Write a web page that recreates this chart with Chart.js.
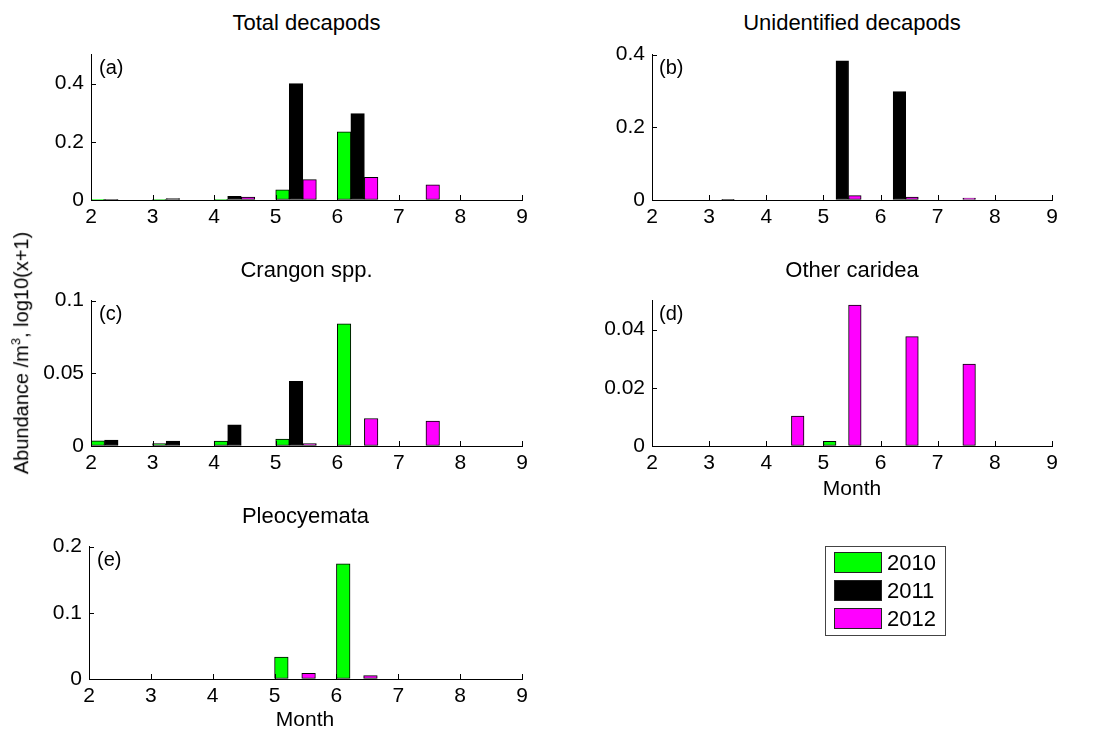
<!DOCTYPE html>
<html>
<head>
<meta charset="utf-8">
<script src="https://cdn.jsdelivr.net/npm/chart.js@4"></script>
<style>
  body { margin: 0; background: #fff; }
  #fig { position: relative; width: 1107px; height: 729px; overflow: hidden;
         font-family: 'Liberation Sans', Arial, sans-serif; color: #000; }
  .panel { position: absolute; }
  .txt { position: absolute; white-space: nowrap; line-height: 1; transform: translate(-50%, -50%); }
  .title { font-size: 22px; }
  .tag { font-size: 20px; transform: translate(0, -50%); }
  .xlab { font-size: 21px; }
  #ylab { font-size: 20px; transform: translate(-50%, -50%) rotate(-90deg); }
  #legend { position: absolute; left: 825px; top: 546px; width: 119px; height: 88px;
            border: 1px solid #444; background: #fff; }
  .leg-row { position: absolute; left: 8px; height: 21px; display: flex; align-items: center; }
  .leg-sw { width: 46px; height: 19px; border: 1px solid #222; margin-right: 5px; }
  .leg-tx { font-size: 22px; line-height: 1; }
</style>
</head>
<body>
<div id="fig">
  <div id="panels"></div>
  <div class="txt" id="ylab" style="left:20px;top:353px">Abundance /m<sup style="font-size:13px">3</sup>, log10(x+1)</div>
  <div class="txt xlab" style="left:852px;top:487px">Month</div>
  <div class="txt xlab" style="left:305px;top:718px">Month</div>
  <div id="legend"></div>
</div>
<script>
/* ── Data ── */
const MONTHS = [2, 3, 4, 5, 6, 7];
const YEARS = ['2010', '2011', '2012'];
const YEAR_SHIFT = [0.11, 0.33, 0.55];          // bar centre, in months after the month start
const YEAR_COLORS = ['#00ff00', '#000000', '#ff00ff'];
const X_TICKS = [2, 3, 4, 5, 6, 7, 8, 9];

// (a) Total decapods
const TOTAL_2010 = [0.001, 0.002, 0.002, 0.035, 0.234, 0];
const TOTAL_2011 = [0.002, 0.005, 0.013, 0.400, 0.297, 0];
const TOTAL_2012 = [0, 0, 0.010, 0.070, 0.078, 0.052];
const TOTAL_TICKS = [0, 0.2, 0.4];

// (b) Unidentified decapods
const UNID_2010 = [0, 0, 0, 0, 0, 0];
const UNID_2011 = [0, 0.002, 0, 0.383, 0.298, 0];
const UNID_2012 = [0, 0, 0, 0.012, 0.008, 0.005];
const UNID_TICKS = [0, 0.2, 0.4];

// (c) Crangon spp.
const CRANGON_2010 = [0.0035, 0.0017, 0.0033, 0.0048, 0.084, 0];
const CRANGON_2011 = [0.0041, 0.0033, 0.0146, 0.0445, 0, 0];
const CRANGON_2012 = [0, 0, 0, 0.0017, 0.0189, 0.0172];
const CRANGON_TICKS = [0, 0.05, 0.1];

// (d) Other caridea
const CARIDEA_2010 = [0, 0, 0, 0.0016, 0, 0];
const CARIDEA_2011 = [0, 0, 0, 0, 0, 0];
const CARIDEA_2012 = [0, 0, 0.0103, 0.0485, 0.0376, 0.0282];
const CARIDEA_TICKS = [0, 0.02, 0.04];

// (e) Pleocyemata
const PLEO_2010 = [0, 0, 0, 0.033, 0.174, 0];
const PLEO_2011 = [0, 0, 0, 0, 0, 0];
const PLEO_2012 = [0, 0, 0, 0.0086, 0.005, 0];
const PLEO_TICKS = [0, 0.1, 0.2];

/* ── Layout (plot area boxes) ── */
const PANELS = [
  { id: 'a', title: 'Total decapods',        series: [TOTAL_2010, TOTAL_2011, TOTAL_2012],       yMax: 0.5,  ticks: TOTAL_TICKS,   box: [91, 47, 431, 153] },
  { id: 'b', title: 'Unidentified decapods', series: [UNID_2010, UNID_2011, UNID_2012],          yMax: 0.4,  ticks: UNID_TICKS,    box: [652, 47, 400, 153] },
  { id: 'c', title: 'Crangon spp.',          series: [CRANGON_2010, CRANGON_2011, CRANGON_2012], yMax: 0.1,  ticks: CRANGON_TICKS, box: [91, 293, 431, 153] },
  { id: 'd', title: 'Other caridea',         series: [CARIDEA_2010, CARIDEA_2011, CARIDEA_2012], yMax: 0.05, ticks: CARIDEA_TICKS, box: [652, 293, 400, 153] },
  { id: 'e', title: 'Pleocyemata',           series: [PLEO_2010, PLEO_2011, PLEO_2012],          yMax: 0.2,  ticks: PLEO_TICKS,    box: [89, 539, 433, 140] }
];
const AXIS_W = 60, AXIS_H = 30, PAD_T = 12, PAD_R = 20;
const TICK_FONT = { family: "'Liberation Sans', Arial, sans-serif", size: 21 };

/* ── Inward tick marks, MATLAB style ── */
const inTicks = {
  id: 'inTicks',
  afterDraw(chart) {
    const { ctx, chartArea: a, scales: { x, y } } = chart;
    ctx.save();
    ctx.strokeStyle = '#000';
    ctx.lineWidth = 1;
    ctx.beginPath();
    x.ticks.forEach(t => {
      const px = Math.round(x.getPixelForValue(t.value)) + 0.5;
      ctx.moveTo(px, a.bottom); ctx.lineTo(px, a.bottom - 5);
    });
    y.ticks.forEach(t => {
      const py = Math.round(y.getPixelForValue(t.value)) + 0.5;
      ctx.moveTo(a.left, py); ctx.lineTo(a.left + 5, py);
    });
    ctx.stroke();
    ctx.restore();
  }
};

function mkPanel(p) {
  const [left, top, w, h] = p.box;
  const fig = document.getElementById('fig');

  const wrap = document.createElement('div');
  wrap.className = 'panel';
  wrap.style.left = (left - AXIS_W) + 'px';
  wrap.style.top = (top - PAD_T) + 'px';
  const cv = document.createElement('canvas');
  cv.width = w + AXIS_W + PAD_R;
  cv.height = h + PAD_T + AXIS_H;
  wrap.appendChild(cv);
  document.getElementById('panels').appendChild(wrap);

  const title = document.createElement('div');
  title.className = 'txt title';
  title.textContent = p.title;
  title.style.left = (left + w / 2) + 'px';
  title.style.top = (top - (p.id === 'a' || p.id === 'b' ? 24 : 23)) + 'px';
  fig.appendChild(title);

  const tag = document.createElement('div');
  tag.className = 'txt tag';
  tag.textContent = '(' + p.id + ')';
  tag.style.left = (left + (p.id === 'b' || p.id === 'd' ? 7 : 8)) + 'px';
  tag.style.top = (top + 20) + 'px';
  fig.appendChild(tag);

  new Chart(cv.getContext('2d'), {
    type: 'bar',
    data: {
      datasets: YEARS.map((yr, k) => ({
        label: yr,
        data: MONTHS.map((m, i) => ({ x: m + YEAR_SHIFT[k], y: p.series[k][i] })),
        backgroundColor: YEAR_COLORS[k],
        borderColor: '#000',
        borderWidth: 1,
        borderSkipped: false,
        grouped: false,
        categoryPercentage: 1,
        barPercentage: 1
      }))
    },
    options: {
      responsive: false,
      animation: false,
      layout: { padding: { top: PAD_T, right: PAD_R, left: 0, bottom: 0 } },
      plugins: { legend: { display: false }, tooltip: { enabled: false } },
      scales: {
        x: {
          type: 'linear', min: 2, max: 9, offset: false,
          grid: { display: true, offset: false, drawOnChartArea: false, drawTicks: false },
          border: { display: true, color: '#000', width: 1 },
          afterBuildTicks: s => { s.ticks = X_TICKS.map(v => ({ value: v })); },
          afterFit: s => { s.height = AXIS_H; },
          ticks: { color: '#000', font: TICK_FONT, padding: 5, maxRotation: 0, autoSkip: false, callback: v => String(v) }
        },
        y: {
          min: 0, max: p.yMax,
          grid: { display: true, drawOnChartArea: false, drawTicks: false },
          border: { display: true, color: '#000', width: 1 },
          afterBuildTicks: s => { s.ticks = p.ticks.map(v => ({ value: v })); },
          afterFit: s => { s.width = AXIS_W; },
          ticks: { color: '#000', font: TICK_FONT, padding: 7, autoSkip: false, callback: v => String(v) }
        }
      }
    },
    plugins: [inTicks]
  });
}

PANELS.forEach(mkPanel);

/* ── Legend ── */
const LEG_TOPS = [5, 33, 61];
document.getElementById('legend').innerHTML = YEARS.map((yr, k) => `
  <div class="leg-row" style="top:${LEG_TOPS[k]}px">
    <div class="leg-sw" style="background:${YEAR_COLORS[k]}"></div>
    <span class="leg-tx">${yr}</span>
  </div>`).join('');
</script>
</body>
</html>
